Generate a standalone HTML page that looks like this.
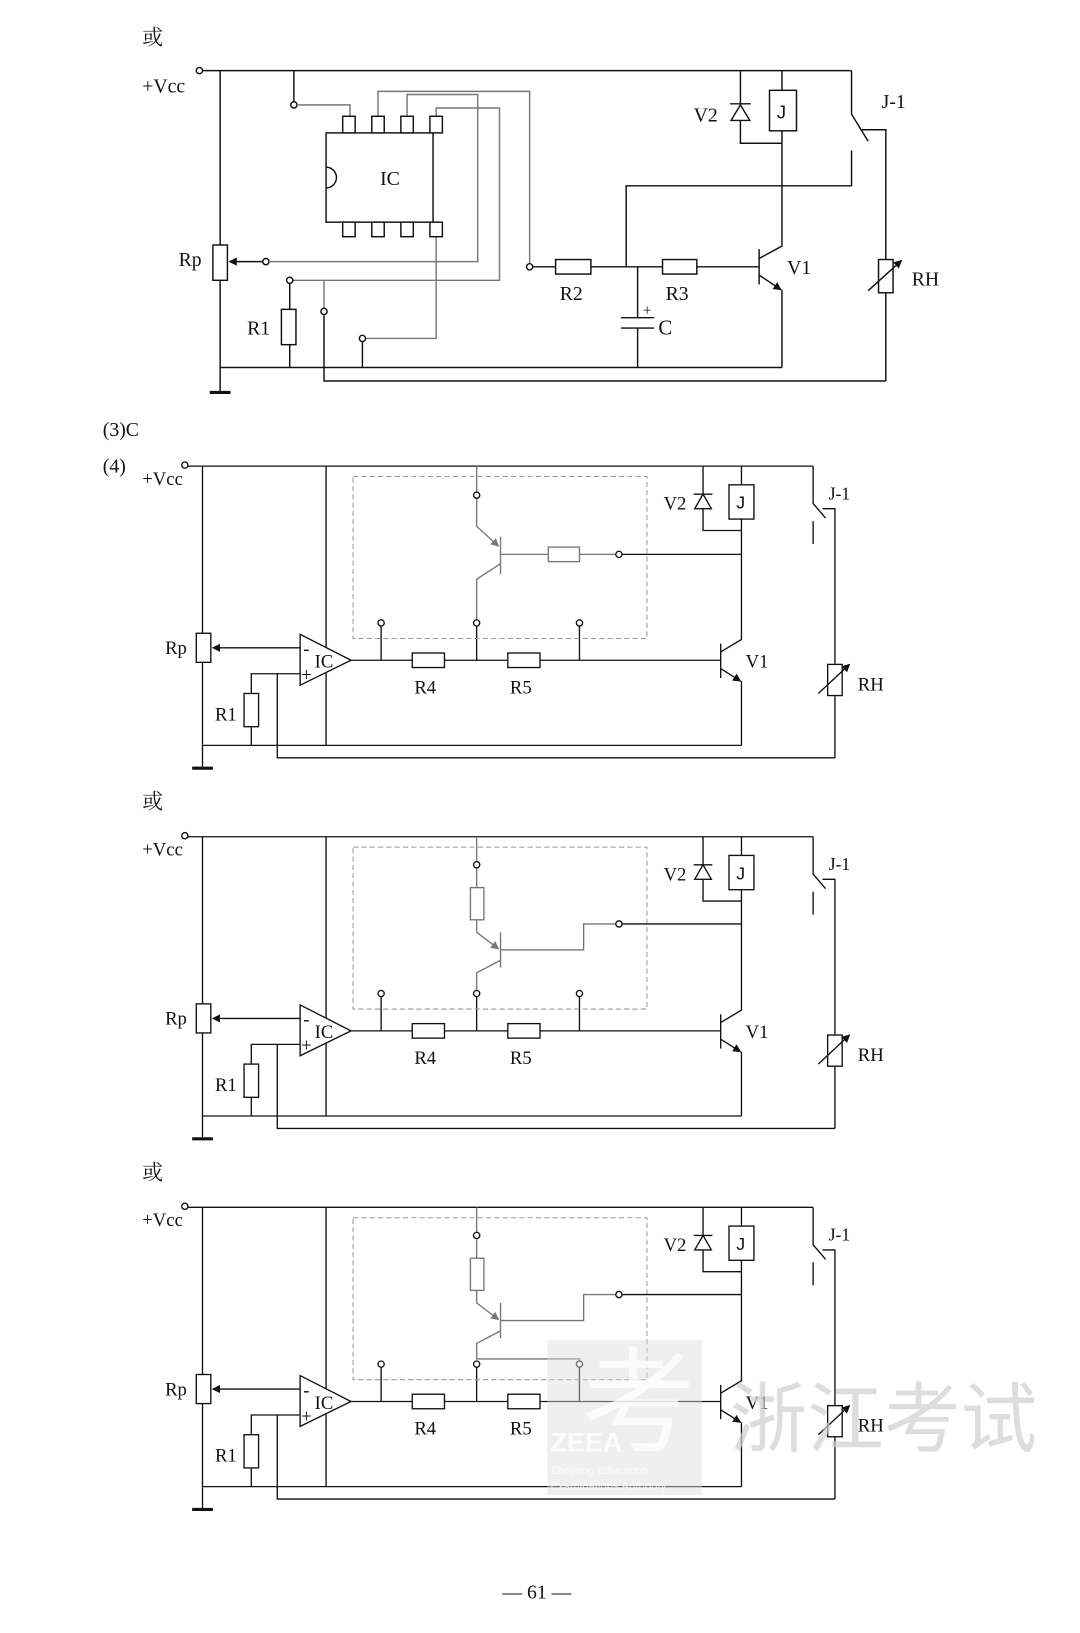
<!DOCTYPE html>
<html><head><meta charset="utf-8"><style>
html,body{margin:0;padding:0;background:#fff;}
svg{display:block;}
text{font-family:"Liberation Serif","Noto Serif CJK SC",serif;fill:#111;}
</style></head><body>
<svg width="1080" height="1633" viewBox="0 0 1040 1573" preserveAspectRatio="none" xmlns="http://www.w3.org/2000/svg">
<rect width="1040" height="1573" fill="#fff"/>
<defs>
<marker id="ab" markerWidth="8" markerHeight="8" refX="7" refY="4" orient="auto" markerUnits="userSpaceOnUse"><path d="M0,0 L8,4 L0,8 z" fill="#111"/></marker>
<marker id="ag" markerWidth="8" markerHeight="8" refX="7" refY="4" orient="auto" markerUnits="userSpaceOnUse"><path d="M0,0 L8,4 L0,8 z" fill="#777"/></marker>
</defs>

<!-- ===== Diagram 1 ===== -->
<g stroke="#111" stroke-width="1.4" fill="none">
<text x="137" y="43" font-size="20" stroke="none" style="font-family:'Noto Serif CJK SC',serif">或</text>
<text x="137" y="89" font-size="19" stroke="none">+Vcc</text>
<circle cx="192" cy="68" r="3" fill="#fff"/>
<path d="M195,68 H820"/>
<path d="M212,68 V378"/><path d="M202,378 H222" stroke-width="3"/>
<rect x="205" y="236" width="14" height="34" fill="#fff"/>
<text x="172" y="256" font-size="19" stroke="none">Rp</text>
<path d="M253,252 H221" marker-end="url(#ab)"/>
<circle cx="256" cy="252" r="3" fill="#fff"/>
<path d="M283,68 V98"/><circle cx="283" cy="101" r="3" fill="#fff"/>
<g stroke="#777"><path d="M286,101 H337 V112"/>
<path d="M364,112 V88 H510 V254"/><path d="M392,112 V91 H460 V252 H259"/>
<path d="M420,112 V104 H481 V270 H282"/><path d="M420,228 V326 H352"/>
<path d="M312,270 V297"/></g>
<rect x="314" y="128" width="103" height="86" fill="#fff"/>
<path d="M314,161 A10,10 0 0 1 314,181"/>
<text x="366" y="178" font-size="19" stroke="none">IC</text>
<rect x="330" y="112" width="12" height="16" fill="#fff"/><rect x="358" y="112" width="12" height="16" fill="#fff"/><rect x="386" y="112" width="12" height="16" fill="#fff"/><rect x="414" y="112" width="12" height="16" fill="#fff"/>
<rect x="330" y="214" width="12" height="14" fill="#fff"/><rect x="358" y="214" width="12" height="14" fill="#fff"/><rect x="386" y="214" width="12" height="14" fill="#fff"/><rect x="414" y="214" width="12" height="14" fill="#fff"/>
<circle cx="510" cy="257" r="3" fill="#fff"/>
<circle cx="279" cy="270" r="3" fill="#fff"/>
<path d="M279,273 V298"/><rect x="271" y="298" width="14" height="34" fill="#fff"/><path d="M279,332 V354"/>
<text x="238" y="322" font-size="19" stroke="none">R1</text>
<circle cx="312" cy="300" r="3" fill="#fff"/><path d="M312,303 V367 H853"/>
<circle cx="349" cy="326" r="3" fill="#fff"/><path d="M349,329 V354"/>
<path d="M212,354 H753"/>
<path d="M513,257 H535"/><rect x="535" y="250" width="34" height="14" fill="#fff"/><path d="M569,257 H638"/>
<rect x="638" y="250" width="33" height="14" fill="#fff"/><path d="M671,257 H731"/>
<text x="539" y="289" font-size="19" stroke="none">R2</text><text x="641" y="289" font-size="19" stroke="none">R3</text>
<path d="M603,257 V179 H820 V145"/>
<path d="M614,257 V306"/><path d="M598,306 H630 M598,316 H630"/><path d="M614,316 V354"/>
<text x="619" y="304" font-size="15" stroke="none">+</text><text x="634" y="322" font-size="20" stroke="none">C</text>
<path d="M731,240 V274"/><path d="M731,249 L753,237 V126"/><path d="M731,265 L752,279" marker-end="url(#ab)"/><path d="M753,279 V354"/>
<text x="758" y="264" font-size="19" stroke="none">V1</text>
<rect x="741" y="87" width="26" height="39" fill="#fff"/><text x="748" y="114" font-size="18" stroke="none" style="font-family:'Liberation Sans',sans-serif">J</text>
<path d="M753,68 V87"/>
<path d="M713,68 V138 H753"/><path d="M704,116 L722,116 L713,101 z" fill="#fff"/><path d="M703,100 H723"/>
<text x="668" y="117" font-size="19" stroke="none">V2</text>
<path d="M820,68 V110 L836,136"/><path d="M830,125 H853 V367"/>
<text x="849" y="104" font-size="19" stroke="none">J-1</text>
<rect x="846" y="250" width="14" height="32" fill="#fff"/><path d="M836,280 L868,251" marker-end="url(#ab)"/>
<text x="878" y="275" font-size="19" stroke="none">RH</text>
</g>

<text x="99" y="420" font-size="19">(3)C</text>
<text x="99" y="455" font-size="19">(4)</text>

<!-- ===== Diagram 2 ===== -->
<g stroke="#111" stroke-width="1.3" fill="none">
<text x="137" y="467" font-size="18" stroke="none">+Vcc</text>
<circle cx="178" cy="448" r="3" fill="#fff"/>
<path d="M181,449 H783"/>
<path d="M195,449 V740"/><path d="M185,740 H205" stroke-width="3"/>
<rect x="189" y="610" width="14" height="28" fill="#fff"/><text x="159" y="630" font-size="18" stroke="none">Rp</text>
<path d="M289,624 H205" marker-end="url(#ab)"/>
<path d="M314,449 V718"/>
<path d="M289,611 L289,660 L338,636 z" fill="#fff"/>
<text x="292" y="631" font-size="18" stroke="none">-</text><text x="290" y="656" font-size="18" stroke="none">+</text><text x="303" y="643" font-size="18" stroke="none">IC</text>
<path d="M195,718 H714"/>
<path d="M289,649 H242 V668"/><rect x="235" y="668" width="14" height="32" fill="#fff"/><path d="M242,700 V718"/>
<text x="207" y="694" font-size="18" stroke="none">R1</text>
<path d="M267,649 V730 H804"/>
<path d="M338,636 H694"/>
<rect x="397" y="629" width="31" height="14" fill="#fff"/><rect x="489" y="629" width="31" height="14" fill="#fff"/>
<text x="399" y="668" font-size="18" stroke="none">R4</text><text x="491" y="668" font-size="18" stroke="none">R5</text>
<path d="M367,636 V603 M459,636 V603 M558,636 V603"/>
<rect x="340" y="459" width="283" height="156" stroke="#999" stroke-width="1" stroke-dasharray="5,3"/>
<g stroke="#777"><path d="M459,449 V474"/><path d="M459,480 V507 L480,526" marker-end="url(#ag)"/><path d="M482,517 V553"/><path d="M482,543 L459,558 V597"/><path d="M482,534 H528 M558,534 H593"/><rect x="528" y="527" width="30" height="14" fill="#fff"/></g>
<circle cx="459" cy="477" r="3" fill="#fff" stroke="#111"/><circle cx="596" cy="534" r="3" fill="#fff"/><path d="M599,534 H714"/>
<circle cx="367" cy="600" r="3" fill="#fff"/><circle cx="459" cy="600" r="3" fill="#fff"/><circle cx="558" cy="600" r="3" fill="#fff"/>
<path d="M694,620 V653"/><path d="M694,628 L714,616 V500"/><path d="M694,644 L713,656" marker-end="url(#ab)"/><path d="M714,656 V718"/>
<text x="718" y="643" font-size="18" stroke="none">V1</text>
<rect x="702" y="467" width="24" height="33" fill="#fff"/><text x="709" y="490" font-size="17" stroke="none" style="font-family:'Liberation Sans',sans-serif">J</text><path d="M714,449 V467"/>
<path d="M677,449 V511 H714"/><path d="M669,490 L685,490 L677,476 z" fill="#fff"/><path d="M668,476 H686"/>
<text x="639" y="491" font-size="18" stroke="none">V2</text>
<path d="M783,449 V485 L795,499"/><path d="M792,490 H804 V730"/><path d="M783,502 V524"/>
<text x="798" y="481" font-size="17" stroke="none">J-1</text>
<rect x="797" y="640" width="14" height="30" fill="#fff"/><path d="M788,668 L818,640" marker-end="url(#ab)"/>
<text x="826" y="665" font-size="18" stroke="none">RH</text>
</g>

<!-- ===== Diagram 3 ===== -->
<g transform="translate(0,357)" stroke="#111" stroke-width="1.3" fill="none">
<text x="137" y="467" font-size="18" stroke="none">+Vcc</text>
<circle cx="178" cy="448" r="3" fill="#fff"/>
<path d="M181,449 H783"/>
<path d="M195,449 V740"/><path d="M185,740 H205" stroke-width="3"/>
<rect x="189" y="610" width="14" height="28" fill="#fff"/><text x="159" y="630" font-size="18" stroke="none">Rp</text>
<path d="M289,624 H205" marker-end="url(#ab)"/>
<path d="M314,449 V718"/>
<path d="M289,611 L289,660 L338,636 z" fill="#fff"/>
<text x="292" y="631" font-size="18" stroke="none">-</text><text x="290" y="656" font-size="18" stroke="none">+</text><text x="303" y="643" font-size="18" stroke="none">IC</text>
<path d="M195,718 H714"/>
<path d="M289,649 H242 V668"/><rect x="235" y="668" width="14" height="32" fill="#fff"/><path d="M242,700 V718"/>
<text x="207" y="694" font-size="18" stroke="none">R1</text>
<path d="M267,649 V730 H804"/>
<path d="M338,636 H694"/>
<rect x="397" y="629" width="31" height="14" fill="#fff"/><rect x="489" y="629" width="31" height="14" fill="#fff"/>
<text x="399" y="668" font-size="18" stroke="none">R4</text><text x="491" y="668" font-size="18" stroke="none">R5</text>
<path d="M367,636 V603 M459,636 V603 M558,636 V603"/>
<rect x="340" y="459" width="283" height="156" stroke="#999" stroke-width="1" stroke-dasharray="5,3"/>
<g stroke="#777"><path d="M459,449 V473"/><path d="M459,479 V498 M459,529 V541 L480,557" marker-end="url(#ag)"/><rect x="453" y="498" width="13" height="31" fill="#fff"/><path d="M482,541 V575"/><path d="M482,568 L459,580 V597"/><path d="M482,558 H562 V533 H593"/></g>
<circle cx="459" cy="476" r="3" fill="#fff" stroke="#111"/><circle cx="596" cy="533" r="3" fill="#fff"/><path d="M599,533 H714"/>
<circle cx="367" cy="600" r="3" fill="#fff"/><circle cx="459" cy="600" r="3" fill="#fff"/><circle cx="558" cy="600" r="3" fill="#fff"/>
<path d="M694,620 V653"/><path d="M694,628 L714,616 V500"/><path d="M694,644 L713,656" marker-end="url(#ab)"/><path d="M714,656 V718"/>
<text x="718" y="643" font-size="18" stroke="none">V1</text>
<rect x="702" y="467" width="24" height="33" fill="#fff"/><text x="709" y="490" font-size="17" stroke="none" style="font-family:'Liberation Sans',sans-serif">J</text><path d="M714,449 V467"/>
<path d="M677,449 V511 H714"/><path d="M669,490 L685,490 L677,476 z" fill="#fff"/><path d="M668,476 H686"/>
<text x="639" y="491" font-size="18" stroke="none">V2</text>
<path d="M783,449 V485 L795,499"/><path d="M792,490 H804 V730"/><path d="M783,502 V524"/>
<text x="798" y="481" font-size="17" stroke="none">J-1</text>
<rect x="797" y="640" width="14" height="30" fill="#fff"/><path d="M788,668 L818,640" marker-end="url(#ab)"/>
<text x="826" y="665" font-size="18" stroke="none">RH</text>
</g>

<text x="137" y="779" font-size="20" style="font-family:'Noto Serif CJK SC',serif">或</text>
<text x="137" y="1136" font-size="20" style="font-family:'Noto Serif CJK SC',serif">或</text>

<!-- ===== Diagram 4 ===== -->
<g transform="translate(0,714)" stroke="#111" stroke-width="1.3" fill="none">
<text x="137" y="467" font-size="18" stroke="none">+Vcc</text>
<circle cx="178" cy="448" r="3" fill="#fff"/>
<path d="M181,449 H783"/>
<path d="M195,449 V740"/><path d="M185,740 H205" stroke-width="3"/>
<rect x="189" y="610" width="14" height="28" fill="#fff"/><text x="159" y="630" font-size="18" stroke="none">Rp</text>
<path d="M289,624 H205" marker-end="url(#ab)"/>
<path d="M314,449 V718"/>
<path d="M289,611 L289,660 L338,636 z" fill="#fff"/>
<text x="292" y="631" font-size="18" stroke="none">-</text><text x="290" y="656" font-size="18" stroke="none">+</text><text x="303" y="643" font-size="18" stroke="none">IC</text>
<path d="M195,718 H714"/>
<path d="M289,649 H242 V668"/><rect x="235" y="668" width="14" height="32" fill="#fff"/><path d="M242,700 V718"/>
<text x="207" y="694" font-size="18" stroke="none">R1</text>
<path d="M267,649 V730 H804"/>
<path d="M338,636 H694"/>
<rect x="397" y="629" width="31" height="14" fill="#fff"/><rect x="489" y="629" width="31" height="14" fill="#fff"/>
<text x="399" y="668" font-size="18" stroke="none">R4</text><text x="491" y="668" font-size="18" stroke="none">R5</text>
<path d="M367,636 V603 M459,636 V603 M558,636 V603"/>
<rect x="340" y="459" width="283" height="156" stroke="#999" stroke-width="1" stroke-dasharray="5,3"/>
<g stroke="#777"><path d="M459,449 V473"/><path d="M459,479 V498 M459,529 V541 L480,557" marker-end="url(#ag)"/><rect x="453" y="498" width="13" height="31" fill="#fff"/><path d="M482,541 V575"/><path d="M482,568 L459,580 V595 H558 V597"/><path d="M482,558 H562 V533 H593"/></g>
<circle cx="459" cy="476" r="3" fill="#fff" stroke="#111"/><circle cx="596" cy="533" r="3" fill="#fff"/><path d="M599,533 H714"/>
<circle cx="367" cy="600" r="3" fill="#fff"/><circle cx="459" cy="600" r="3" fill="#fff"/><circle cx="558" cy="600" r="3" fill="#fff"/>
<path d="M694,620 V653"/><path d="M694,628 L714,616 V500"/><path d="M694,644 L713,656" marker-end="url(#ab)"/><path d="M714,656 V718"/>
<text x="718" y="643" font-size="18" stroke="none">V1</text>
<rect x="702" y="467" width="24" height="33" fill="#fff"/><text x="709" y="490" font-size="17" stroke="none" style="font-family:'Liberation Sans',sans-serif">J</text><path d="M714,449 V467"/>
<path d="M677,449 V511 H714"/><path d="M669,490 L685,490 L677,476 z" fill="#fff"/><path d="M668,476 H686"/>
<text x="639" y="491" font-size="18" stroke="none">V2</text>
<path d="M783,449 V485 L795,499"/><path d="M792,490 H804 V730"/><path d="M783,502 V524"/>
<text x="798" y="481" font-size="17" stroke="none">J-1</text>
<rect x="797" y="640" width="14" height="30" fill="#fff"/><path d="M788,668 L818,640" marker-end="url(#ab)"/>
<text x="826" y="665" font-size="18" stroke="none">RH</text>
</g>

<!-- watermark -->
<rect x="527" y="1291" width="149" height="149" fill="#dcdcdc" opacity="0.45"/>
<text x="560" y="1390" font-size="110" style="fill:#ffffff;opacity:0.75;font-family:'Noto Sans CJK SC',sans-serif">考</text>
<text x="530" y="1398" font-size="26" font-weight="bold" style="fill:#ffffff;opacity:0.85;font-family:'Liberation Sans',sans-serif">ZEEA</text>
<text x="530" y="1420" font-size="11" style="fill:#ffffff;opacity:0.8;font-family:'Liberation Sans',sans-serif">Zhejiang Education</text>
<text x="530" y="1435" font-size="11" style="fill:#ffffff;opacity:0.8;font-family:'Liberation Sans',sans-serif">Examinations Authority</text>
<text x="703" y="1393" font-size="74" style="fill:#cfcfcf;opacity:0.7;font-family:'Noto Sans CJK SC',sans-serif">浙江考试</text>

<text x="517" y="1540" font-size="19" text-anchor="middle">—  61  —</text>
</svg>
</body></html>
